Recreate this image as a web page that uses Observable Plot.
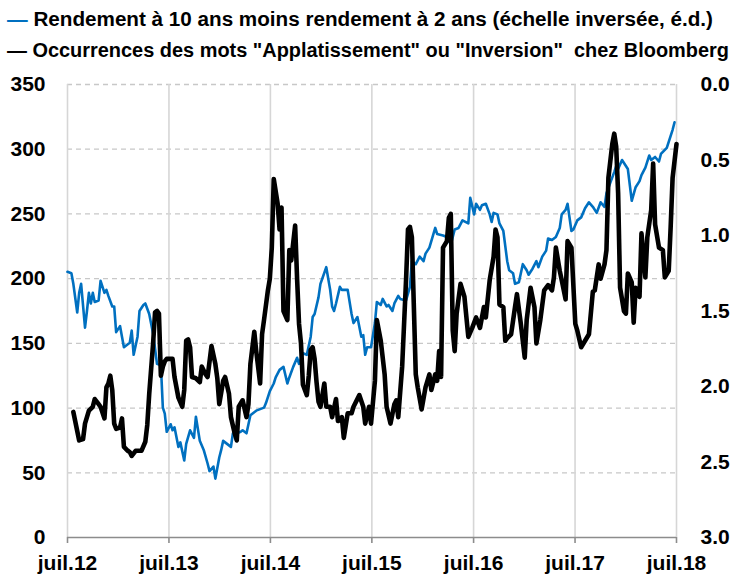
<!DOCTYPE html>
<html>
<head>
<meta charset="utf-8">
<script src="https://cdn.jsdelivr.net/npm/d3@7"></script>
<script src="https://cdn.jsdelivr.net/npm/@observablehq/plot@0.6"></script>
<style>
  body { margin: 0; background: #fff; }
  #wrap { width: 745px; height: 580px; position: relative; overflow: hidden; }
  #legend { display: block; }
  #chart svg { display: block; }
</style>
</head>
<body>
<div id="wrap">
  <svg id="legend" width="745" height="65"></svg>
  <div id="chart"></div>
</div>
<script>
// ---- Data (week offsets from 1 July 2012) ----
const legendLabels = [
  "Rendement à 10 ans moins rendement à 2 ans (échelle inversée, é.d.)",
  "Occurrences des mots \"Applatissement\" ou \"Inversion\"  chez Bloomberg"
];
const seriesColors = ["#0070C0", "#000000"];

const blueWeeks = [0,2,3,5,6,7,9,10,11,12,13,14,16,17,19,20,21,23,24,25,27,28,29,31,32,33,34,36,37,39,40,42,44,46,48,49,50,51,53,54,55,57,58,60,61,63,65,66,68,70,72,73,75,76,78,79,80,82,84,85,87,89,90,92,94,95,97,99,101,102,104,106,107,109,111,113,114,116,118,119,121,123,125,126,127,129,130,133,135,136,137,138,140,141,144,146,147,149,151,152,153,154,156,158,159,161,162,164,165,167,168,170,171,174,176,177,179,181,183,184,186,189,190,193,195,197,199,201,203,206,207,209,210,212,213,215,217,218,219,221,222,224,226,227,229,230,232,234,236,237,239,241,242,244,246,247,249,251,253,254,256,257,259,260,262,264,266,268,270,272,274,276,277,279,281,282,283,285,287,288,290,292,294,295,297,299,300,302,304,305,308,310,311,312];
const blueSpread = [1.24,1.25,1.32,1.51,1.38,1.32,1.61,1.50,1.38,1.45,1.38,1.44,1.43,1.30,1.38,1.36,1.40,1.47,1.47,1.64,1.60,1.67,1.74,1.72,1.71,1.63,1.79,1.67,1.50,1.46,1.45,1.52,1.65,1.85,1.86,2.14,2.18,2.30,2.25,2.29,2.27,2.40,2.37,2.49,2.38,2.29,2.34,2.20,2.36,2.42,2.51,2.56,2.53,2.61,2.47,2.42,2.36,2.38,2.40,2.31,2.31,2.30,2.29,2.31,2.19,2.18,2.16,2.15,2.14,2.11,2.03,1.98,1.94,1.89,1.87,1.98,1.94,1.87,1.81,1.85,1.78,1.79,1.67,1.54,1.52,1.41,1.32,1.21,1.36,1.47,1.50,1.45,1.34,1.36,1.36,1.52,1.58,1.54,1.67,1.66,1.79,1.74,1.74,1.58,1.44,1.46,1.42,1.47,1.46,1.50,1.45,1.40,1.42,1.43,1.34,1.17,1.19,1.14,1.17,1.12,1.08,0.95,0.99,1.00,1.01,1.06,0.96,0.95,0.90,0.92,0.75,0.86,0.79,0.83,0.80,0.79,0.86,0.91,0.85,0.86,0.92,0.97,1.17,1.23,1.25,1.32,1.31,1.19,1.23,1.26,1.22,1.17,1.21,1.14,1.10,1.02,1.03,1.01,0.95,0.86,0.83,0.79,0.97,0.96,0.90,0.88,0.82,0.78,0.81,0.85,0.78,0.81,0.72,0.65,0.58,0.54,0.56,0.50,0.54,0.56,0.77,0.68,0.64,0.60,0.55,0.47,0.50,0.48,0.51,0.46,0.42,0.34,0.30,0.25];

const blackWeeks = [3,6,8,9,11,13,14,16,17,19,20,21,22,23,24,25,27,28,29,31,32,33,35,36,38,40,41,42,44,45,46,47,48,49,50,51,54,55,57,59,60,61,62,63,64,66,68,69,71,72,74,76,77,78,79,80,81,83,84,86,87,88,90,92,93,94,96,97,99,100,101,103,104,105,106,108,109,110,111,113,114,115,117,118,119,120,121,123,124,125,126,127,128,129,130,132,133,135,136,138,139,141,142,144,146,147,150,152,153,155,156,158,159,161,163,164,166,168,169,170,172,174,175,176,177,179,180,182,184,186,187,189,190,191,192,193,195,196,197,198,199,200,202,204,206,208,210,212,214,215,217,219,220,221,222,224,225,226,228,230,231,233,235,236,238,240,241,243,245,247,249,250,251,253,254,256,257,259,261,262,264,266,268,270,271,273,274,276,277,278,280,281,282,283,284,286,287,288,290,291,292,294,295,297,298,300,301,302,304,306,307,309,310,311,313];
const blackCount = [97,75,76,88,98,101,107,103,101,92,116,119,125,114,88,84,85,92,70,67,66,63,67,67,67,74,87,111,150,174,175,173,125,132,136,138,138,124,108,101,114,152,153,147,124,123,120,132,126,124,148,134,123,103,112,121,124,111,93,80,75,101,106,93,103,134,159,144,119,157,168,191,200,224,277,258,238,255,175,168,222,214,241,200,165,150,118,110,125,145,147,138,120,105,101,119,101,101,93,107,90,93,77,96,96,101,110,101,88,101,88,121,168,152,126,101,88,103,106,93,132,199,238,240,232,126,116,99,116,126,114,126,121,144,124,224,229,247,250,160,144,173,196,186,155,162,170,162,178,170,199,217,238,232,180,178,152,154,157,178,188,165,139,168,193,178,150,168,191,195,191,201,224,206,199,184,229,224,165,160,147,152,157,190,191,211,200,211,222,278,304,312,302,266,193,175,173,204,197,166,193,186,235,201,232,253,289,242,224,222,201,206,240,278,304];

const leftTicks = [0, 50, 100, 150, 200, 250, 300, 350];
const rightTicks = [0.0, 0.5, 1.0, 1.5, 2.0, 2.5, 3.0];
const yearTicks = [2012, 2013, 2014, 2015, 2016, 2017, 2018];

// ---- Build tables ----
const FONT = "'Liberation Sans', Arial, sans-serif";
const start = new Date(2012, 6, 1);
const toDate = w => d3.timeDay.offset(start, w * 7);
const spreadToLeft = s => (3 - s) * 350 / 3; // inverted right scale mapped onto left scale
const blueData = blueWeeks.map((w, i) => ({date: toDate(w), value: spreadToLeft(blueSpread[i])}));
const blackData = blackWeeks.map((w, i) => ({date: toDate(w), value: blackCount[i]}));
const xTicks = yearTicks.map(y => new Date(y, 6, 1));

// ---- Legend ----
const leg = d3.select("#legend");
const legendLines = [
  {y: 26, len: 706},
  {y: 57, len: 722}
];
legendLabels.forEach((lab, i) => {
  const t = leg.append("text")
    .attr("x", 7).attr("y", legendLines[i].y)
    .attr("xml:space", "preserve")
    .style("white-space", "pre")
    .attr("font-family", FONT).attr("font-weight", "bold").attr("font-size", 20)
    .attr("textLength", legendLines[i].len).attr("lengthAdjust", "spacingAndGlyphs");
  t.append("tspan").attr("fill", seriesColors[i]).text("— ");
  t.append("tspan").attr("fill", "#000").text(lab);
});

// ---- Chart ----
const chart = Plot.plot({
  width: 745,
  height: 515,
  marginTop: 19,
  marginBottom: 43,
  marginLeft: 67,
  marginRight: 69,
  style: {fontFamily: FONT, fontSize: "21px", fontWeight: "bold", color: "#000", background: "transparent", overflow: "visible"},
  x: {type: "time", domain: [xTicks[0], xTicks[xTicks.length - 1]]},
  y: {domain: [0, 350]},
  marks: [
    Plot.gridY(leftTicks.slice(1), {stroke: "#c8c8c8", strokeOpacity: 1, strokeWidth: 1.3, strokeDasharray: "5,4"}),
    Plot.gridX(xTicks, {stroke: "#d6d6d6", strokeOpacity: 1, strokeWidth: 1.6}),
    Plot.ruleY([0], {stroke: "#8c8c8c", strokeWidth: 1.6}),
    Plot.axisX(xTicks, {tickSize: 6, tickPadding: 12, stroke: "#8c8c8c", fill: "#000", strokeWidth: 1.6,
      tickFormat: d => "juil." + String(d.getFullYear()).slice(2), label: null}),
    Plot.axisY(leftTicks, {anchor: "left", tickSize: 0, tickPadding: 22, label: null}),
    Plot.axisY(rightTicks.map(spreadToLeft), {anchor: "right", tickSize: 0, tickPadding: 24, label: null,
      tickFormat: v => (3 - v * 3 / 350).toFixed(1)}),
    Plot.line(blueData, {x: "date", y: "value", stroke: seriesColors[0], strokeWidth: 2.6, strokeLinejoin: "round"}),
    Plot.line(blackData, {x: "date", y: "value", stroke: seriesColors[1], strokeWidth: 4.6, strokeLinejoin: "round"})
  ]
});
document.getElementById("chart").appendChild(chart);
</script>
</body>
</html>
